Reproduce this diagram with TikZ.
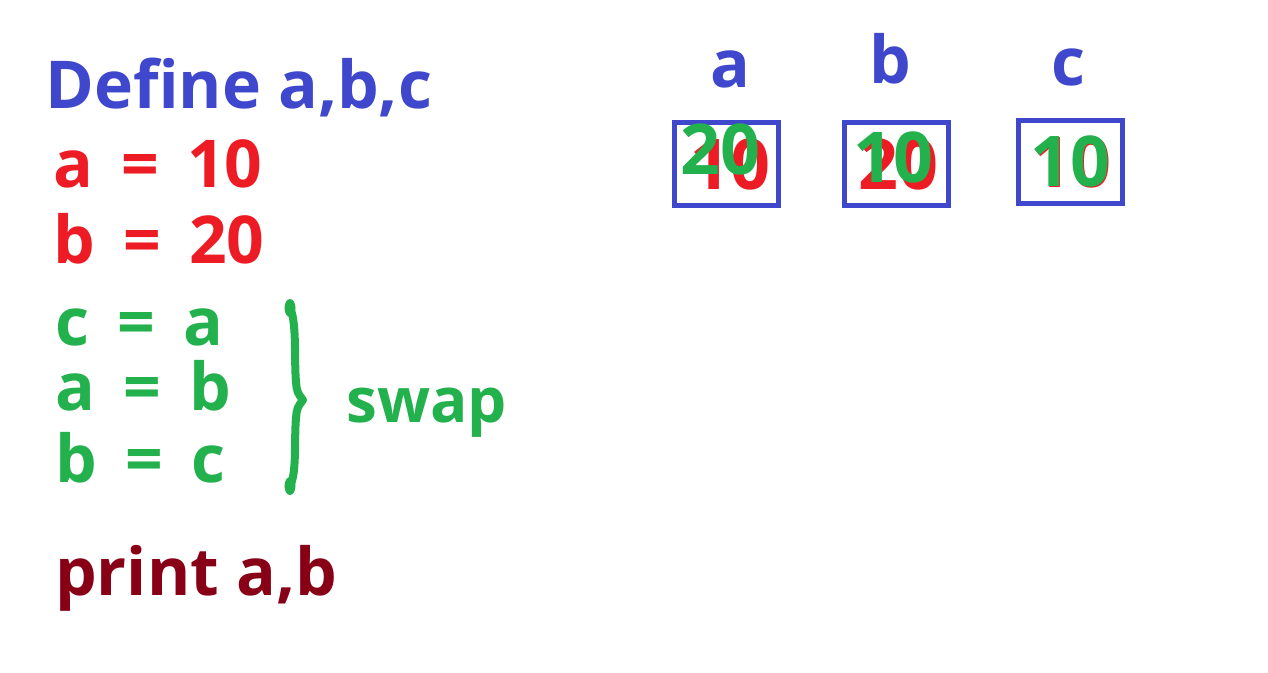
\documentclass[tikz,border=0pt]{standalone}
\usepackage{fontspec}
\setmainfont{Open Sans}
\newfontfamily\codefont{Open Sans}[WordSpace=1.65]
\usepackage{tikz}
\usetikzlibrary{positioning}
\definecolor{PaintBlue}{RGB}{63, 72, 204}
\definecolor{PaintRed}{RGB}{237, 28, 36}
\definecolor{PaintGreen}{RGB}{34, 177, 76}
\definecolor{PaintMaroon}{RGB}{136, 0, 21}

\begin{document}
\begin{tikzpicture}[
    x=1pt, y=-1pt,
    textline/.style={anchor=base west, inner sep=0pt, font=\fontsize{66}{70}\selectfont\bfseries},
    codeline/.style={textline, font=\codefont\fontsize{66}{70}\selectfont\bfseries},
    varname/.style={anchor=base, inner sep=0pt, text=PaintBlue, font=\fontsize{66}{70}\selectfont\bfseries},
    cell/.style={rectangle, draw=PaintBlue, line width=5pt, minimum width=104pt, minimum height=83pt},
    value/.style={anchor=base, inner sep=0pt, font=\fontsize{70}{74}\selectfont\bfseries},
    bracket/.style={draw=PaintGreen, line width=8pt, line cap=round, line join=round},
    blob/.style={fill=PaintGreen}
]
\useasboundingbox (0,0) rectangle (1268,672);

% Code
\node[textline, text=PaintBlue] (define) at (45,108) {Define a,b,c};
\node[codeline, text=PaintRed] (seta) at (53,187) {a = 10};
\node[codeline, text=PaintRed] (setb) at (53,263) {b = 20};
\node[codeline, text=PaintGreen] (swapc) at (55,345) {c = a};
\node[codeline, text=PaintGreen] (swapa) at (55,410) {a = b};
\node[codeline, text=PaintGreen] (swapb) at (55,482) {b = c};
\node[textline, text=PaintMaroon] (print) at (55,595) {print a,b};

% Swap brace
\coordinate (bracetop) at (290,308);
\coordinate (bracetip) at (303,400);
\coordinate (bracebot) at (290,486);
\draw[bracket] (bracetop) .. controls (297,322) and (294,360) .. (296,382)
    .. controls (297,392) .. (bracetip)
    .. controls (297,408) .. (296,418)
    .. controls (294,440) and (297,473) .. (bracebot);
\fill[blob] (bracetop) ellipse (5.5 and 9);
\fill[blob] (bracebot) ellipse (5.5 and 9);
\node[textline, text=PaintGreen, font=\fontsize{62}{66}\selectfont\bfseries] (swaplabel) at (346,422) {swap};

% Variable names
\node[varname] (namea) at (730,87) {a};
\node[varname] (nameb) at (890,83) {b};
\node[varname] (namec) at (1068,85) {c};

% Memory cells
\node[cell] (cella) at (726.5,164) {};
\node[cell] (cellb) at (896.5,164) {};
\node[cell] (cellc) at (1070.5,162) {};

% Old values
\node[value, text=PaintRed] (olda) at (730,189) {10};
\node[value, text=PaintRed] (oldb) at (898,189) {20};
\node[value, text=PaintRed] (oldc) at (1071,187) {10};

% New values
\node[value, text=PaintGreen] (newa) at (720,174) {20};
\node[value, text=PaintGreen] (newb) at (893,182) {10};
\node[value, text=PaintGreen] (newc) at (1070,186) {10};

\end{tikzpicture}
\end{document}
